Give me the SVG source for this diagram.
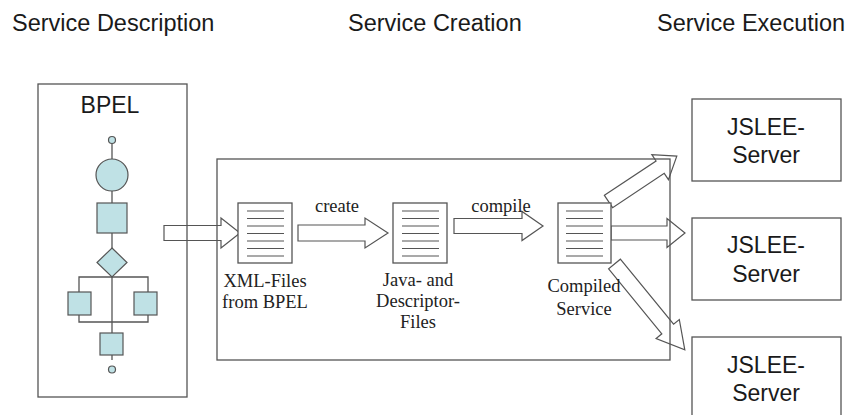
<svg xmlns="http://www.w3.org/2000/svg" width="847" height="415" viewBox="0 0 847 415">
<style>
.hdr{font-family:"Liberation Sans",Arial,sans-serif;font-size:23.5px;fill:#1a1a1a}
.big{font-family:"Liberation Sans",Arial,sans-serif;font-size:23px;fill:#1a1a1a;text-anchor:middle}
.lbl{font-family:"Liberation Serif","Times New Roman",serif;font-size:18.5px;fill:#222;text-anchor:middle}
.box{fill:none;stroke:#555;stroke-width:1.3}
.arr{fill:#fff;stroke:#555;stroke-width:1.2;stroke-linejoin:miter}
.doc{fill:#fff;stroke:#555;stroke-width:1.3}
.dl{stroke:#555;stroke-width:1.2}
.bp{fill:#bfe1e5;stroke:#555;stroke-width:1.2}
.bl{stroke:#555;stroke-width:1.3;fill:none}
</style>
<rect width="847" height="415" fill="#fff"/>
<text class="hdr" x="12" y="31">Service Description</text>
<text class="hdr" x="348" y="31">Service Creation</text>
<text class="hdr" x="657" y="31">Service Execution</text>

<g id="connectors">
<polygon class="arr" points="0,-7.5 57,-7.5 57,-15 76,0 57,15 57,7.5 0,7.5" transform="translate(164,233)"/>
<polygon class="arr" points="0,-8 67,-8 67,-15 90,0 67,15 67,8 0,8" transform="translate(298,233)"/>
<polygon class="arr" points="0,-7.5 68,-7.5 68,-14.5 89,0 68,14.5 68,7.5 0,7.5" transform="translate(454,226)"/>
<polygon class="arr" points="0,-7 56,-7 56,-14.5 74,0 56,14.5 56,7 0,7" transform="translate(611,233)"/>
<polygon class="arr" points="0,-7.4 62,-7.4 62,-15 82,0 62,15 62,7.4 0,7.4" transform="translate(608.5,201.5) rotate(-33.6)"/>
<polygon class="arr" points="0,-7.6 84,-7.6 84,-15 111,0 84,15 84,7.6 0,7.6" transform="translate(614.5,264) rotate(50.7)"/>
</g>

<g id="bpel">
<rect class="box" x="38" y="84" width="149" height="313"/>
<text class="big" x="110" y="113">BPEL</text>
<line class="bl" x1="112" y1="143" x2="112" y2="360"/>
<circle class="bp" cx="112" cy="140" r="3.5"/>
<circle class="bp" cx="112" cy="175" r="16"/>
<rect class="bp" x="97" y="203" width="30" height="30"/>
<polygon class="bp" points="112,248 127,262.5 112,277 97,262.5"/>
<polyline class="bl" points="79,292 79,277 148,277 148,292"/>
<polyline class="bl" points="79,315 79,322 148,322 148,315"/>
<rect class="bp" x="68" y="292" width="23" height="23"/>
<rect class="bp" x="134" y="292" width="23" height="23"/>
<rect class="bp" x="100" y="333" width="23" height="22"/>
<circle class="bp" cx="112" cy="369.5" r="3.5"/>
</g>

<g id="creation">
<rect class="box" x="217" y="159" width="453" height="201"/>
</g>

<g id="xmlfiles">
<rect class="doc" x="238" y="203" width="54" height="60"/>
<g class="dl"><line x1="247" y1="211" x2="284" y2="211"/><line x1="247" y1="218.5" x2="284" y2="218.5"/><line x1="247" y1="226" x2="284" y2="226"/><line x1="247" y1="233.5" x2="284" y2="233.5"/><line x1="247" y1="241" x2="284" y2="241"/><line x1="247" y1="248.5" x2="284" y2="248.5"/><line x1="247" y1="256" x2="284" y2="256"/></g>
<text class="lbl" x="265" y="287">XML-Files</text>
<text class="lbl" x="265" y="308">from BPEL</text>
</g>

<g id="javafiles">
<rect class="doc" x="393" y="203" width="54" height="60"/>
<g class="dl"><line x1="402" y1="211" x2="439" y2="211"/><line x1="402" y1="218.5" x2="439" y2="218.5"/><line x1="402" y1="226" x2="439" y2="226"/><line x1="402" y1="233.5" x2="439" y2="233.5"/><line x1="402" y1="241" x2="439" y2="241"/><line x1="402" y1="248.5" x2="439" y2="248.5"/><line x1="402" y1="256" x2="439" y2="256"/></g>
<text class="lbl" x="418" y="286">Java- and</text>
<text class="lbl" x="418" y="307">Descriptor-</text>
<text class="lbl" x="418" y="328">Files</text>
</g>

<g id="compiled">
<rect class="doc" x="558" y="203" width="53" height="60"/>
<g class="dl"><line x1="566" y1="211" x2="603" y2="211"/><line x1="566" y1="218.5" x2="603" y2="218.5"/><line x1="566" y1="226" x2="603" y2="226"/><line x1="566" y1="233.5" x2="603" y2="233.5"/><line x1="566" y1="241" x2="603" y2="241"/><line x1="566" y1="248.5" x2="603" y2="248.5"/><line x1="566" y1="256" x2="603" y2="256"/></g>
<text class="lbl" x="584" y="292">Compiled</text>
<text class="lbl" x="584" y="315">Service</text>
</g>

<text class="lbl" x="337" y="212">create</text>
<text class="lbl" x="501" y="212">compile</text>

<g id="jslee1">
<rect class="box" x="692" y="99" width="149" height="82"/>
<text class="big" x="766" y="135">JSLEE-</text>
<text class="big" x="766" y="163">Server</text>
</g>
<g id="jslee2">
<rect class="box" x="692" y="218" width="149" height="82"/>
<text class="big" x="766" y="253">JSLEE-</text>
<text class="big" x="766" y="282">Server</text>
</g>
<g id="jslee3">
<rect class="box" x="692" y="337" width="149" height="90"/>
<text class="big" x="766" y="373">JSLEE-</text>
<text class="big" x="766" y="401">Server</text>
</g>
</svg>
